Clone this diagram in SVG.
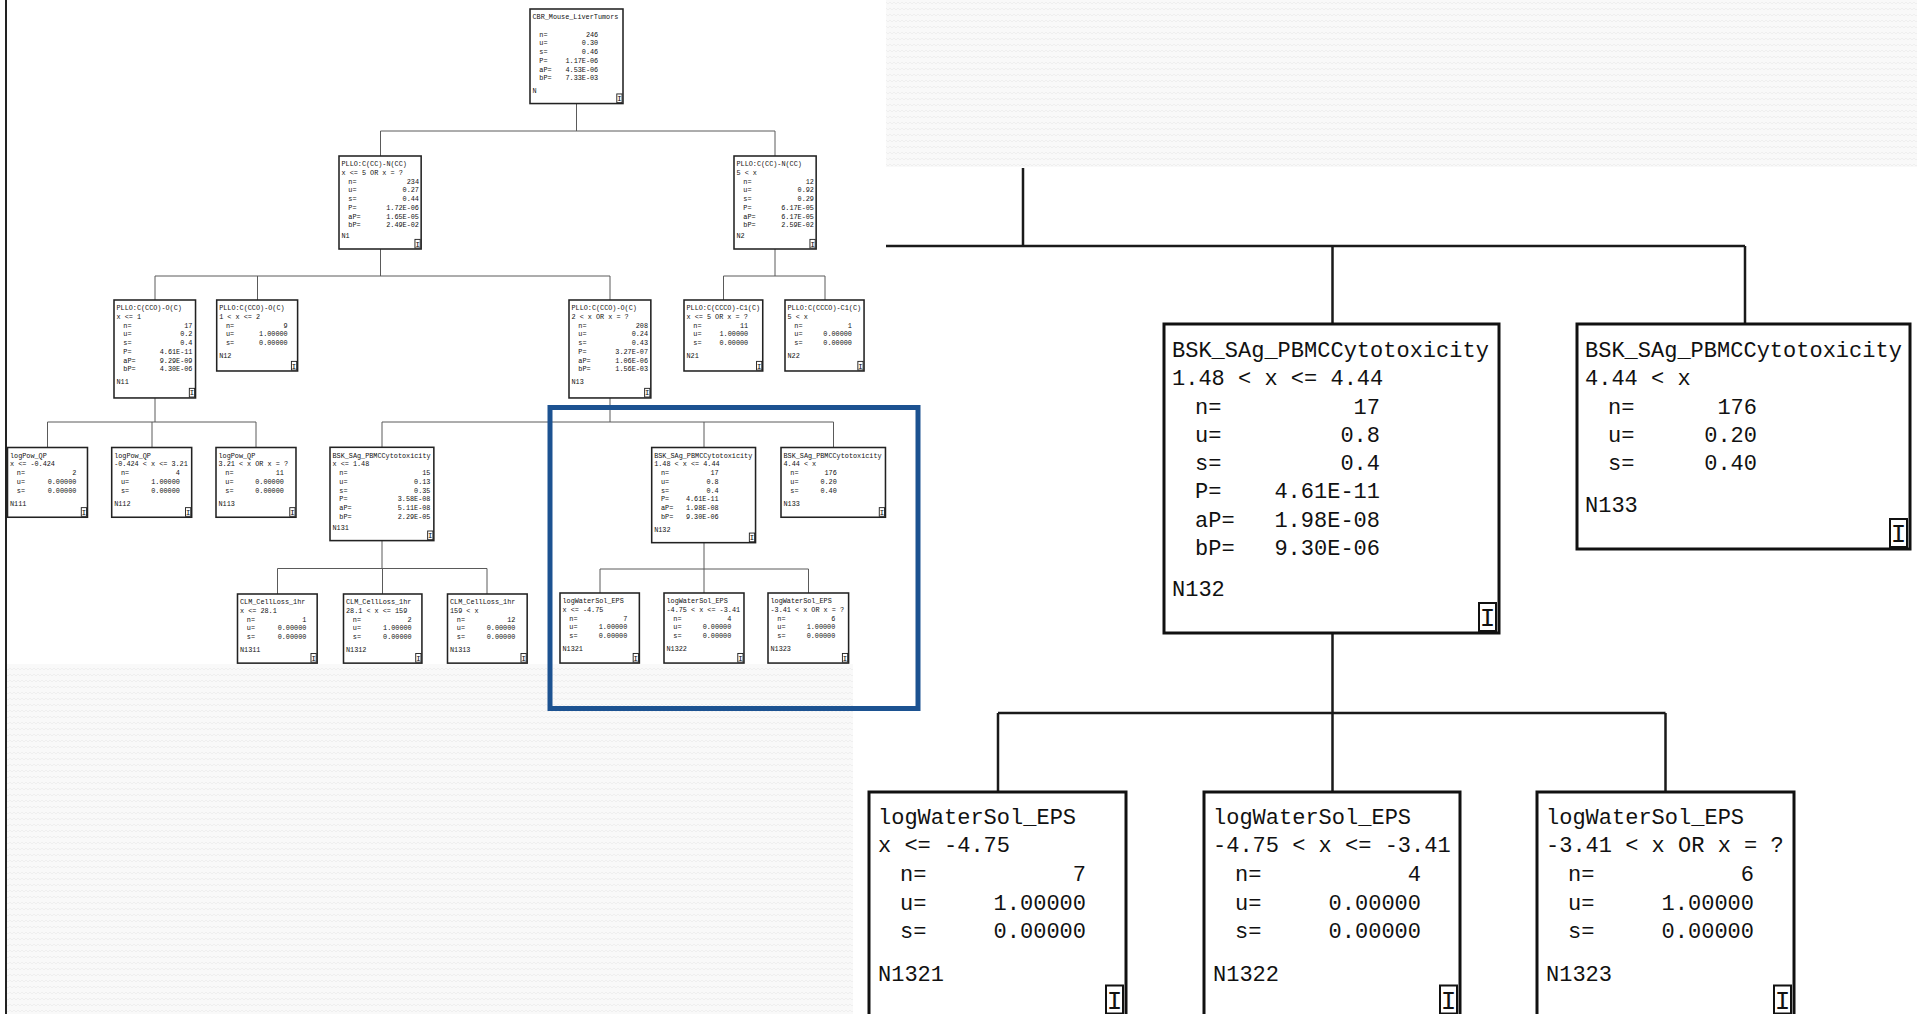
<svg xmlns="http://www.w3.org/2000/svg" width="1917" height="1014" viewBox="0 0 1917 1014">
<style>
.t{font-family:"Liberation Mono","DejaVu Sans Mono",monospace;font-size:22px;fill:#111}
.v{font-family:"Liberation Mono","DejaVu Sans Mono",monospace;font-size:22px;fill:#111;text-anchor:end}
.ic{font-family:"Liberation Mono","DejaVu Sans Mono",monospace;font-size:26px;fill:#111;text-anchor:middle}
.sb{fill:#fff;stroke:#222;stroke-width:5}
.lb{fill:#fff;stroke:#111;stroke-width:3}
.ib{fill:#fff;stroke:#111;stroke-width:2}
.ibs{fill:#fff;stroke:#222;stroke-width:3}
.sc{stroke:#5a5a5a;stroke-width:1;fill:none}
.lc{stroke:#1a1a1a;stroke-width:2.5;fill:none}
</style>
<defs>
<pattern id="tex" width="8" height="6" patternUnits="userSpaceOnUse">
<rect width="8" height="6" fill="#f9f9f9"/>
<path d="M0 4 L2 2 L4 4 L6 2 L8 4" stroke="#efefef" stroke-width="1" fill="none"/>
</pattern>
</defs>
<rect width="1917" height="1014" fill="#fff"/>
<rect x="7" y="664" width="846" height="350" fill="url(#tex)"/>
<rect x="886" y="0" width="1031" height="167" fill="url(#tex)"/>
<line x1="6" y1="0" x2="6" y2="1014" stroke="#222" stroke-width="2"/>

<g id="connectors">
<path class="sc" d="M576.5 104V131M380.5 131H775M380.5 131V156M775 131V156"/>
<path class="sc" d="M380.5 249V276M155 276H610M155 276V300M257.5 276V300M610 276V300"/>
<path class="sc" d="M775 249V276M723.5 276H825M723.5 276V300M825 276V300"/>
<path class="sc" d="M155 398V422M47.5 422H256M47.5 422V447.5M152 422V447.5M256 422V447.5"/>
<path class="sc" d="M610 398V422M382 422H833.5M382 422V447.5M704 422V447.5M833.5 422V447.5"/>
<path class="sc" d="M382 541V568.5M277.5 568.5H487M277.5 568.5V594M382.5 568.5V594M487 568.5V594"/>
<path class="sc" d="M704 542V569M600 569H808.5M600 569V593M704 569V593M808.5 569V593"/>
<path class="lc" d="M1023 168V246M886 246H1745M1332.5 246V324M1745 246V324"/>
<path class="lc" d="M1332.5 633V713M998 713H1665.5M998 713V792M1332.5 713V792M1665.5 713V792"/>
</g>

<rect x="550" y="407.5" width="368" height="301" fill="none" stroke="#1c5291" stroke-width="5"/>

<!-- small tree -->
<g id="root" transform="translate(530,9) scale(0.31)">
<rect class="sb" width="300" height="305"/>
<text class="t" x="8" y="33">CBR_Mouse_LiverTumors</text>
<text class="t" x="30" y="89.5">n=</text><text class="v" x="220" y="89.5">246</text>
<text class="t" x="30" y="117.5">u=</text><text class="v" x="220" y="117.5">0.30</text>
<text class="t" x="30" y="146">s=</text><text class="v" x="220" y="146">0.46</text>
<text class="t" x="30" y="174">P=</text><text class="v" x="220" y="174">1.17E-06</text>
<text class="t" x="30" y="202.5">aP=</text><text class="v" x="220" y="202.5">4.53E-06</text>
<text class="t" x="30" y="230.5">bP=</text><text class="v" x="220" y="230.5">7.33E-03</text>
<text class="t" x="8" y="270">N</text>
<rect class="ibs" x="280" y="274" width="17" height="28"/><text class="ic" x="288.5" y="297">I</text>
</g>

<g id="N1" transform="translate(339,156) scale(0.31)">
<rect class="sb" width="265" height="300"/>
<text class="t" x="8" y="33">PLLO:C(CC)-N(CC)</text>
<text class="t" x="8" y="61">x &lt;= 5 OR x = ?</text>
<text class="t" x="30" y="89.5">n=</text><text class="v" x="258" y="89.5">234</text>
<text class="t" x="30" y="117.5">u=</text><text class="v" x="258" y="117.5">0.27</text>
<text class="t" x="30" y="146">s=</text><text class="v" x="258" y="146">0.44</text>
<text class="t" x="30" y="174">P=</text><text class="v" x="258" y="174">1.72E-06</text>
<text class="t" x="30" y="202.5">aP=</text><text class="v" x="258" y="202.5">1.65E-05</text>
<text class="t" x="30" y="230.5">bP=</text><text class="v" x="258" y="230.5">2.49E-02</text>
<text class="t" x="8" y="266">N1</text>
<rect class="ibs" x="245" y="269" width="17" height="28"/><text class="ic" x="253.5" y="292">I</text>
</g>

<g id="N2" transform="translate(734,156) scale(0.31)">
<rect class="sb" width="265" height="300"/>
<text class="t" x="8" y="33">PLLO:C(CC)-N(CC)</text>
<text class="t" x="8" y="61">5 &lt; x</text>
<text class="t" x="30" y="89.5">n=</text><text class="v" x="258" y="89.5">12</text>
<text class="t" x="30" y="117.5">u=</text><text class="v" x="258" y="117.5">0.92</text>
<text class="t" x="30" y="146">s=</text><text class="v" x="258" y="146">0.29</text>
<text class="t" x="30" y="174">P=</text><text class="v" x="258" y="174">6.17E-05</text>
<text class="t" x="30" y="202.5">aP=</text><text class="v" x="258" y="202.5">6.17E-05</text>
<text class="t" x="30" y="230.5">bP=</text><text class="v" x="258" y="230.5">2.59E-02</text>
<text class="t" x="8" y="266">N2</text>
<rect class="ibs" x="245" y="269" width="17" height="28"/><text class="ic" x="253.5" y="292">I</text>
</g>

<g id="N11" transform="translate(114,300) scale(0.31)">
<rect class="sb" width="263" height="316"/>
<text class="t" x="8" y="33">PLLO:C(CCO)-O(C)</text>
<text class="t" x="8" y="61">x &lt;= 1</text>
<text class="t" x="30" y="89.5">n=</text><text class="v" x="253" y="89.5">17</text>
<text class="t" x="30" y="117.5">u=</text><text class="v" x="253" y="117.5">0.2</text>
<text class="t" x="30" y="146">s=</text><text class="v" x="253" y="146">0.4</text>
<text class="t" x="30" y="174">P=</text><text class="v" x="253" y="174">4.61E-11</text>
<text class="t" x="30" y="202.5">aP=</text><text class="v" x="253" y="202.5">9.29E-09</text>
<text class="t" x="30" y="230.5">bP=</text><text class="v" x="253" y="230.5">4.30E-06</text>
<text class="t" x="8" y="272">N11</text>
<rect class="ibs" x="243" y="285" width="17" height="28"/><text class="ic" x="251.5" y="308">I</text>
</g>

<g id="N12" transform="translate(216.7,300) scale(0.31)">
<rect class="sb" width="261" height="229"/>
<text class="t" x="8" y="33">PLLO:C(CCO)-O(C)</text>
<text class="t" x="8" y="61">1 &lt; x &lt;= 2</text>
<text class="t" x="30" y="89.5">n=</text><text class="v" x="229" y="89.5">9</text>
<text class="t" x="30" y="117.5">u=</text><text class="v" x="229" y="117.5">1.00000</text>
<text class="t" x="30" y="146">s=</text><text class="v" x="229" y="146">0.00000</text>
<text class="t" x="8" y="188">N12</text>
<rect class="ibs" x="241" y="198" width="17" height="28"/><text class="ic" x="249.5" y="221">I</text>
</g>

<g id="N13" transform="translate(569,300) scale(0.31)">
<rect class="sb" width="264" height="316"/>
<text class="t" x="8" y="33">PLLO:C(CCO)-O(C)</text>
<text class="t" x="8" y="61">2 &lt; x OR x = ?</text>
<text class="t" x="30" y="89.5">n=</text><text class="v" x="255" y="89.5">208</text>
<text class="t" x="30" y="117.5">u=</text><text class="v" x="255" y="117.5">0.24</text>
<text class="t" x="30" y="146">s=</text><text class="v" x="255" y="146">0.43</text>
<text class="t" x="30" y="174">P=</text><text class="v" x="255" y="174">3.27E-07</text>
<text class="t" x="30" y="202.5">aP=</text><text class="v" x="255" y="202.5">1.06E-06</text>
<text class="t" x="30" y="230.5">bP=</text><text class="v" x="255" y="230.5">1.56E-03</text>
<text class="t" x="8" y="272">N13</text>
<rect class="ibs" x="244" y="285" width="17" height="28"/><text class="ic" x="252.5" y="308">I</text>
</g>

<g id="N21" transform="translate(684,300) scale(0.31)">
<rect class="sb" width="254" height="229"/>
<text class="t" x="8" y="33">PLLO:C(CCCO)-C1(C)</text>
<text class="t" x="8" y="61">x &lt;= 5 OR x = ?</text>
<text class="t" x="30" y="89.5">n=</text><text class="v" x="207" y="89.5">11</text>
<text class="t" x="30" y="117.5">u=</text><text class="v" x="207" y="117.5">1.00000</text>
<text class="t" x="30" y="146">s=</text><text class="v" x="207" y="146">0.00000</text>
<text class="t" x="8" y="188">N21</text>
<rect class="ibs" x="234" y="198" width="17" height="28"/><text class="ic" x="242.5" y="221">I</text>
</g>

<g id="N22" transform="translate(785,300) scale(0.31)">
<rect class="sb" width="255" height="229"/>
<text class="t" x="8" y="33">PLLO:C(CCCO)-C1(C)</text>
<text class="t" x="8" y="61">5 &lt; x</text>
<text class="t" x="30" y="89.5">n=</text><text class="v" x="216" y="89.5">1</text>
<text class="t" x="30" y="117.5">u=</text><text class="v" x="216" y="117.5">0.00000</text>
<text class="t" x="30" y="146">s=</text><text class="v" x="216" y="146">0.00000</text>
<text class="t" x="8" y="188">N22</text>
<rect class="ibs" x="235" y="198" width="17" height="28"/><text class="ic" x="243.5" y="221">I</text>
</g>

<g id="N111" transform="translate(7.5,447.5) scale(0.31)">
<rect class="sb" width="258" height="225"/>
<text class="t" x="8" y="33">logPow_QP</text>
<text class="t" x="8" y="61">x &lt;= -0.424</text>
<text class="t" x="30" y="89.5">n=</text><text class="v" x="222" y="89.5">2</text>
<text class="t" x="30" y="117.5">u=</text><text class="v" x="222" y="117.5">0.00000</text>
<text class="t" x="30" y="146">s=</text><text class="v" x="222" y="146">0.00000</text>
<text class="t" x="8" y="188">N111</text>
<rect class="ibs" x="238" y="194" width="17" height="28"/><text class="ic" x="246.5" y="217">I</text>
</g>

<g id="N112" transform="translate(111.7,447.5) scale(0.31)">
<rect class="sb" width="258" height="225"/>
<text class="t" x="8" y="33">logPow_QP</text>
<text class="t" x="8" y="61">-0.424 &lt; x &lt;= 3.21</text>
<text class="t" x="30" y="89.5">n=</text><text class="v" x="220" y="89.5">4</text>
<text class="t" x="30" y="117.5">u=</text><text class="v" x="220" y="117.5">1.00000</text>
<text class="t" x="30" y="146">s=</text><text class="v" x="220" y="146">0.00000</text>
<text class="t" x="8" y="188">N112</text>
<rect class="ibs" x="238" y="194" width="17" height="28"/><text class="ic" x="246.5" y="217">I</text>
</g>

<g id="N113" transform="translate(216,447.5) scale(0.31)">
<rect class="sb" width="258" height="225"/>
<text class="t" x="8" y="33">logPow_QP</text>
<text class="t" x="8" y="61">3.21 &lt; x OR x = ?</text>
<text class="t" x="30" y="89.5">n=</text><text class="v" x="219" y="89.5">11</text>
<text class="t" x="30" y="117.5">u=</text><text class="v" x="219" y="117.5">0.00000</text>
<text class="t" x="30" y="146">s=</text><text class="v" x="219" y="146">0.00000</text>
<text class="t" x="8" y="188">N113</text>
<rect class="ibs" x="238" y="194" width="17" height="28"/><text class="ic" x="246.5" y="217">I</text>
</g>

<g id="N131" transform="translate(330,447.3) scale(0.31)">
<rect class="sb" width="335" height="301"/>
<text class="t" x="8" y="33">BSK_SAg_PBMCCytotoxicity</text>
<text class="t" x="8" y="61">x &lt;= 1.48</text>
<text class="t" x="30" y="89.5">n=</text><text class="v" x="324" y="89.5">15</text>
<text class="t" x="30" y="117.5">u=</text><text class="v" x="324" y="117.5">0.13</text>
<text class="t" x="30" y="146">s=</text><text class="v" x="324" y="146">0.35</text>
<text class="t" x="30" y="174">P=</text><text class="v" x="324" y="174">3.58E-08</text>
<text class="t" x="30" y="202.5">aP=</text><text class="v" x="324" y="202.5">5.11E-08</text>
<text class="t" x="30" y="230.5">bP=</text><text class="v" x="324" y="230.5">2.29E-05</text>
<text class="t" x="8" y="266">N131</text>
<rect class="ibs" x="315" y="270" width="17" height="28"/><text class="ic" x="323.5" y="293">I</text>
</g>

<g id="N132" transform="translate(651.7,447.5) scale(0.31)">
<rect class="sb" width="335" height="307"/>
<text class="t" x="8" y="33">BSK_SAg_PBMCCytotoxicity</text>
<text class="t" x="8" y="61">1.48 &lt; x &lt;= 4.44</text>
<text class="t" x="30" y="89.5">n=</text><text class="v" x="216" y="89.5">17</text>
<text class="t" x="30" y="117.5">u=</text><text class="v" x="216" y="117.5">0.8</text>
<text class="t" x="30" y="146">s=</text><text class="v" x="216" y="146">0.4</text>
<text class="t" x="30" y="174">P=</text><text class="v" x="216" y="174">4.61E-11</text>
<text class="t" x="30" y="202.5">aP=</text><text class="v" x="216" y="202.5">1.98E-08</text>
<text class="t" x="30" y="230.5">bP=</text><text class="v" x="216" y="230.5">9.30E-06</text>
<text class="t" x="8" y="272">N132</text>
<rect class="ibs" x="315" y="276" width="17" height="28"/><text class="ic" x="323.5" y="299">I</text>
</g>

<g id="N133" transform="translate(781,447.5) scale(0.31)">
<rect class="sb" width="337" height="225"/>
<text class="t" x="8" y="33">BSK_SAg_PBMCCytotoxicity</text>
<text class="t" x="8" y="61">4.44 &lt; x</text>
<text class="t" x="30" y="89.5">n=</text><text class="v" x="180" y="89.5">176</text>
<text class="t" x="30" y="117.5">u=</text><text class="v" x="180" y="117.5">0.20</text>
<text class="t" x="30" y="146">s=</text><text class="v" x="180" y="146">0.40</text>
<text class="t" x="8" y="188">N133</text>
<rect class="ibs" x="317" y="194" width="17" height="28"/><text class="ic" x="325.5" y="217">I</text>
</g>

<g id="N1311" transform="translate(237.5,594) scale(0.31)">
<rect class="sb" width="257" height="223"/>
<text class="t" x="8" y="33">CLM_CellLoss_1hr</text>
<text class="t" x="8" y="61">x &lt;= 28.1</text>
<text class="t" x="30" y="89.5">n=</text><text class="v" x="222" y="89.5">1</text>
<text class="t" x="30" y="117.5">u=</text><text class="v" x="222" y="117.5">0.00000</text>
<text class="t" x="30" y="146">s=</text><text class="v" x="222" y="146">0.00000</text>
<text class="t" x="8" y="188">N1311</text>
<rect class="ibs" x="237" y="192" width="17" height="28"/><text class="ic" x="245.5" y="215">I</text>
</g>

<g id="N1312" transform="translate(343.5,594) scale(0.31)">
<rect class="sb" width="253" height="223"/>
<text class="t" x="8" y="33">CLM_CellLoss_1hr</text>
<text class="t" x="8" y="61">28.1 &lt; x &lt;= 159</text>
<text class="t" x="30" y="89.5">n=</text><text class="v" x="220" y="89.5">2</text>
<text class="t" x="30" y="117.5">u=</text><text class="v" x="220" y="117.5">1.00000</text>
<text class="t" x="30" y="146">s=</text><text class="v" x="220" y="146">0.00000</text>
<text class="t" x="8" y="188">N1312</text>
<rect class="ibs" x="233" y="192" width="17" height="28"/><text class="ic" x="241.5" y="215">I</text>
</g>

<g id="N1313" transform="translate(447.5,594) scale(0.31)">
<rect class="sb" width="257" height="223"/>
<text class="t" x="8" y="33">CLM_CellLoss_1hr</text>
<text class="t" x="8" y="61">159 &lt; x</text>
<text class="t" x="30" y="89.5">n=</text><text class="v" x="219" y="89.5">12</text>
<text class="t" x="30" y="117.5">u=</text><text class="v" x="219" y="117.5">0.00000</text>
<text class="t" x="30" y="146">s=</text><text class="v" x="219" y="146">0.00000</text>
<text class="t" x="8" y="188">N1313</text>
<rect class="ibs" x="237" y="192" width="17" height="28"/><text class="ic" x="245.5" y="215">I</text>
</g>

<g id="N1321" transform="translate(560,593) scale(0.31)">
<rect class="sb" width="256" height="226"/>
<text class="t" x="8" y="33">logWaterSol_EPS</text>
<text class="t" x="8" y="61">x &lt;= -4.75</text>
<text class="t" x="30" y="89.5">n=</text><text class="v" x="217" y="89.5">7</text>
<text class="t" x="30" y="117.5">u=</text><text class="v" x="217" y="117.5">1.00000</text>
<text class="t" x="30" y="146">s=</text><text class="v" x="217" y="146">0.00000</text>
<text class="t" x="8" y="188">N1321</text>
<rect class="ibs" x="236" y="195" width="17" height="28"/><text class="ic" x="244.5" y="218">I</text>
</g>

<g id="N1322" transform="translate(664,593) scale(0.31)">
<rect class="sb" width="258" height="226"/>
<text class="t" x="8" y="33">logWaterSol_EPS</text>
<text class="t" x="8" y="61">-4.75 &lt; x &lt;= -3.41</text>
<text class="t" x="30" y="89.5">n=</text><text class="v" x="217" y="89.5">4</text>
<text class="t" x="30" y="117.5">u=</text><text class="v" x="217" y="117.5">0.00000</text>
<text class="t" x="30" y="146">s=</text><text class="v" x="217" y="146">0.00000</text>
<text class="t" x="8" y="188">N1322</text>
<rect class="ibs" x="238" y="195" width="17" height="28"/><text class="ic" x="246.5" y="218">I</text>
</g>

<g id="N1323" transform="translate(768,593) scale(0.31)">
<rect class="sb" width="260" height="226"/>
<text class="t" x="8" y="33">logWaterSol_EPS</text>
<text class="t" x="8" y="61">-3.41 &lt; x OR x = ?</text>
<text class="t" x="30" y="89.5">n=</text><text class="v" x="217" y="89.5">6</text>
<text class="t" x="30" y="117.5">u=</text><text class="v" x="217" y="117.5">1.00000</text>
<text class="t" x="30" y="146">s=</text><text class="v" x="217" y="146">0.00000</text>
<text class="t" x="8" y="188">N1323</text>
<rect class="ibs" x="240" y="195" width="17" height="28"/><text class="ic" x="248.5" y="218">I</text>
</g>

<!-- large view -->
<g id="L_N132" transform="translate(1164,324)">
<rect class="lb" width="335" height="309"/>
<text class="t" x="8" y="33">BSK_SAg_PBMCCytotoxicity</text>
<text class="t" x="8" y="61">1.48 &lt; x &lt;= 4.44</text>
<text class="t" x="31" y="89.5">n=</text><text class="v" x="216" y="89.5">17</text>
<text class="t" x="31" y="117.5">u=</text><text class="v" x="216" y="117.5">0.8</text>
<text class="t" x="31" y="146">s=</text><text class="v" x="216" y="146">0.4</text>
<text class="t" x="31" y="174">P=</text><text class="v" x="216" y="174">4.61E-11</text>
<text class="t" x="31" y="202.5">aP=</text><text class="v" x="216" y="202.5">1.98E-08</text>
<text class="t" x="31" y="230.5">bP=</text><text class="v" x="216" y="230.5">9.30E-06</text>
<text class="t" x="8" y="272">N132</text>
<rect class="ib" x="315" y="279" width="17" height="28"/><text class="ic" x="323.5" y="302">I</text>
</g>

<g id="L_N133" transform="translate(1577,324)">
<rect class="lb" width="333" height="225"/>
<text class="t" x="8" y="33">BSK_SAg_PBMCCytotoxicity</text>
<text class="t" x="8" y="61">4.44 &lt; x</text>
<text class="t" x="31" y="89.5">n=</text><text class="v" x="180" y="89.5">176</text>
<text class="t" x="31" y="117.5">u=</text><text class="v" x="180" y="117.5">0.20</text>
<text class="t" x="31" y="146">s=</text><text class="v" x="180" y="146">0.40</text>
<text class="t" x="8" y="188">N133</text>
<rect class="ib" x="313" y="195" width="17" height="28"/><text class="ic" x="321.5" y="218">I</text>
</g>

<g id="L_N1321" transform="translate(869,792)">
<rect class="lb" width="257" height="224"/>
<text class="t" x="9" y="32">logWaterSol_EPS</text>
<text class="t" x="9" y="60">x &lt;= -4.75</text>
<text class="t" x="31" y="89">n=</text><text class="v" x="217" y="89">7</text>
<text class="t" x="31" y="117.5">u=</text><text class="v" x="217" y="117.5">1.00000</text>
<text class="t" x="31" y="145.5">s=</text><text class="v" x="217" y="145.5">0.00000</text>
<text class="t" x="9" y="188.5">N1321</text>
<rect class="ib" x="237" y="193.5" width="17" height="28"/><text class="ic" x="245.5" y="216.5">I</text>
</g>

<g id="L_N1322" transform="translate(1204,792)">
<rect class="lb" width="256" height="224"/>
<text class="t" x="9" y="32">logWaterSol_EPS</text>
<text class="t" x="9" y="60">-4.75 &lt; x &lt;= -3.41</text>
<text class="t" x="31" y="89">n=</text><text class="v" x="217" y="89">4</text>
<text class="t" x="31" y="117.5">u=</text><text class="v" x="217" y="117.5">0.00000</text>
<text class="t" x="31" y="145.5">s=</text><text class="v" x="217" y="145.5">0.00000</text>
<text class="t" x="9" y="188.5">N1322</text>
<rect class="ib" x="236" y="193.5" width="17" height="28"/><text class="ic" x="244.5" y="216.5">I</text>
</g>

<g id="L_N1323" transform="translate(1537,792)">
<rect class="lb" width="257" height="224"/>
<text class="t" x="9" y="32">logWaterSol_EPS</text>
<text class="t" x="9" y="60">-3.41 &lt; x OR x = ?</text>
<text class="t" x="31" y="89">n=</text><text class="v" x="217" y="89">6</text>
<text class="t" x="31" y="117.5">u=</text><text class="v" x="217" y="117.5">1.00000</text>
<text class="t" x="31" y="145.5">s=</text><text class="v" x="217" y="145.5">0.00000</text>
<text class="t" x="9" y="188.5">N1323</text>
<rect class="ib" x="237" y="193.5" width="17" height="28"/><text class="ic" x="245.5" y="216.5">I</text>
</g>
</svg>
